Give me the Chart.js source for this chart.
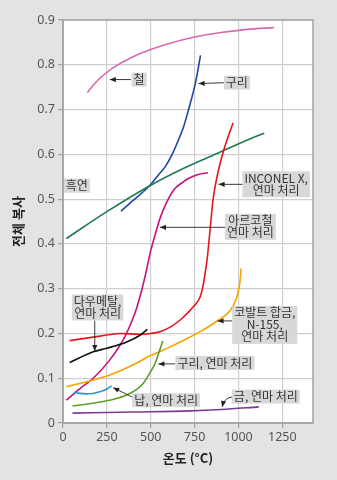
<!DOCTYPE html>
<html>
<head>
<meta charset="utf-8">
<script src="https://cdn.jsdelivr.net/npm/chart.js@4"></script>
<style>
  html, body { margin: 0; padding: 0; background: #e3e3e3; }
  canvas { display: block; }
</style>
</head>
<body>
<canvas id="chart" width="337" height="480"></canvas>
<script>
// temperatures (°C) and total emissivity per material
const ironX = [139, 165, 200, 250, 300, 400, 500, 600, 750, 900, 1050, 1202];
const ironY = [0.738, 0.751, 0.766, 0.783, 0.797, 0.818, 0.834, 0.847, 0.862, 0.872, 0.879, 0.883];

const copperX = [330, 400, 496, 544, 582, 620, 658, 687, 715, 754, 784];
const copperY = [0.473, 0.497, 0.531, 0.554, 0.572, 0.598, 0.632, 0.661, 0.699, 0.758, 0.821];

const graphiteX = [19, 250, 500, 668, 850, 1068, 1147];
const graphiteY = [0.412, 0.472, 0.531, 0.565, 0.597, 0.635, 0.647];

const armcoX = [19, 100, 172, 267, 353, 410, 449, 475, 500, 525, 553, 590, 630, 680, 715, 770, 826];
const armcoY = [0.051, 0.078, 0.10, 0.141, 0.193, 0.245, 0.297, 0.34, 0.385, 0.42, 0.457, 0.492, 0.52, 0.537, 0.546, 0.555, 0.559];

const inconelX = [38, 210, 325, 439, 500, 553, 611, 668, 744, 782, 801, 812, 821, 840, 855, 878, 916, 969];
const inconelY = [0.184, 0.194, 0.2, 0.198, 0.2, 0.204, 0.214, 0.23, 0.26, 0.282, 0.312, 0.34, 0.364, 0.438, 0.498, 0.55, 0.609, 0.67];

const cobaltX = [19, 172, 267, 400, 497, 611, 668, 782, 887, 954, 985, 1001, 1010, 1015];
const cobaltY = [0.081, 0.096, 0.107, 0.13, 0.15, 0.17, 0.181, 0.204, 0.23, 0.252, 0.275, 0.297, 0.32, 0.345];

const dowX = [38, 172, 250, 363, 439, 481];
const dowY = [0.135, 0.159, 0.167, 0.181, 0.196, 0.209];

const copperPolX = [54, 150, 229, 300, 363, 420, 458, 500, 525, 553, 569];
const copperPolY = [0.038, 0.043, 0.048, 0.054, 0.0625, 0.075, 0.089, 0.115, 0.133, 0.165, 0.183];

const leadX = [61, 134, 210, 250, 277];
const leadY = [0.068, 0.065, 0.07, 0.076, 0.083];

const goldX = [54, 400, 725, 900, 1116];
const goldY = [0.022, 0.0245, 0.027, 0.030, 0.036];

const xTicks = [0, 250, 500, 750, 1000, 1250];

// labels: text lines, centre (data units), optional arrow
const notes = [
  { lines: ['철'], x: 434, y: 0.767, from: [387, 0.767], to: [267, 0.767] },
  { lines: ['구리'], x: 991, y: 0.76, from: [920, 0.76], to: [773, 0.758] },
  { lines: ['흑연'], x: 79, y: 0.53 },
  { lines: ['INCONEL X,', '연마 처리'], x: 1215, y: 0.533, from: [1027, 0.533], to: [887, 0.533] },
  { lines: ['아르코철', '연마 처리'], x: 1068, y: 0.438, from: [925, 0.437], to: [553, 0.437] },
  { lines: ['다우메탈,', '연마 처리'], x: 197, y: 0.258, from: [181, 0.229], to: [181, 0.161] },
  { lines: ['코발트 합금,', 'N-155,', '연마 처리'], x: 1150, y: 0.219, from: [964, 0.228], to: [881, 0.228] },
  { lines: ['구리, 연마 처리'], x: 866, y: 0.134, from: [639, 0.132], to: [544, 0.132] },
  { lines: ['납, 연마 처리'], x: 588, y: 0.051, from: [399, 0.057], to: [286, 0.079] },
  { lines: ['금, 연마 처리'], x: 1156, y: 0.059, from: [965, 0.058], via: [921, 0.058], to: [907, 0.036] },
];

const FONT = "'Noto Sans CJK KR', 'Noto Sans', sans-serif";
const NUM_FONT = "'Noto Sans', sans-serif";

function pts(xs, ys) {
  return xs.map((x, i) => ({ x: x, y: ys[i] }));
}

function series(xs, ys, color) {
  return {
    data: pts(xs, ys),
    borderColor: color,
    borderWidth: 1.6,
    pointRadius: 0,
    fill: false,
    cubicInterpolationMode: "monotone",
  };
}

const frame = {
  id: "frame",
  beforeDraw(chart) {
    const { ctx, chartArea: a } = chart;
    ctx.save();
    ctx.fillStyle = "#e3e3e3";
    ctx.fillRect(0, 0, chart.width, chart.height);
    ctx.fillStyle = "#ffffff";
    ctx.fillRect(a.left, a.top, a.right - a.left, a.bottom - a.top);
    ctx.restore();
  },
  afterDraw(chart) {
    const { ctx, chartArea: a } = chart;
    ctx.save();
    ctx.strokeStyle = "#a3a3a3";
    ctx.lineWidth = 1.5;
    ctx.strokeRect(a.left, a.top, a.right - a.left, a.bottom - a.top);
    ctx.restore();
  },
};

function arrowHead(ctx, fx, fy, tx, ty) {
  const ang = Math.atan2(ty - fy, tx - fx);
  const len = 6, half = 2.6;
  ctx.beginPath();
  ctx.moveTo(tx, ty);
  ctx.lineTo(tx - len * Math.cos(ang) + half * Math.sin(ang), ty - len * Math.sin(ang) - half * Math.cos(ang));
  ctx.lineTo(tx - len * Math.cos(ang) - half * Math.sin(ang), ty - len * Math.sin(ang) + half * Math.cos(ang));
  ctx.closePath();
  ctx.fill();
}

const labels = {
  id: "labels",
  afterDatasetsDraw(chart) {
    const { ctx, scales: { x, y } } = chart;
    ctx.save();
    ctx.font = "12px " + FONT;
    ctx.textAlign = "center";
    ctx.textBaseline = "middle";
    const lh = 12;
    notes.forEach((n) => {
      // arrow
      if (n.from) {
        const fx = x.getPixelForValue(n.from[0]), fy = y.getPixelForValue(n.from[1]);
        const tx = x.getPixelForValue(n.to[0]), ty = y.getPixelForValue(n.to[1]);
        ctx.strokeStyle = "#222";
        ctx.fillStyle = "#222";
        ctx.lineWidth = 0.9;
        ctx.beginPath();
        ctx.moveTo(fx, fy);
        if (n.via) {
          const vx = x.getPixelForValue(n.via[0]), vy = y.getPixelForValue(n.via[1]);
          ctx.quadraticCurveTo(vx, vy, tx, ty);
          ctx.stroke();
          arrowHead(ctx, vx, vy, tx, ty);
        } else {
          ctx.lineTo(tx, ty);
          ctx.stroke();
          arrowHead(ctx, fx, fy, tx, ty);
        }
      }
      // box + text
      const cx = x.getPixelForValue(n.x), cy = y.getPixelForValue(n.y);
      const w = Math.max(...n.lines.map((t) => ctx.measureText(t).width)) + 4;
      const h = n.lines.length * lh + 2;
      ctx.fillStyle = "#d8d8d8";
      ctx.fillRect(cx - w / 2, cy - h / 2, w, h);
      ctx.fillStyle = "#333";
      n.lines.forEach((t, i) => {
        ctx.fillText(t, cx, cy - h / 2 + 1 + lh * i + lh / 2);
      });
    });
    ctx.restore();
  },
};

new Chart(document.getElementById("chart"), {
  type: "line",
  data: {
    datasets: [
      series(goldX, goldY, "#7b3a8e"),
      series(leadX, leadY, "#1f9ad8"),
      series(copperPolX, copperPolY, "#5c9e2c"),
      series(cobaltX, cobaltY, "#f6a400"),
      series(dowX, dowY, "#111111"),
      series(inconelX, inconelY, "#e8141c"),
      series(armcoX, armcoY, "#c5137d"),
      series(graphiteX, graphiteY, "#1f7a50"),
      series(copperX, copperY, "#1c48a0"),
      series(ironX, ironY, "#d76aae"),
    ],
  },
  options: {
    responsive: false,
    animation: false,
    layout: { padding: { top: 20, right: 24, left: 0, bottom: 0 } },
    plugins: { legend: { display: false }, tooltip: { enabled: false } },
    scales: {
      x: {
        type: "linear",
        min: 0,
        max: 1425,
        afterBuildTicks: (s) => { s.ticks = xTicks.map((v) => ({ value: v })); },
        afterFit: (s) => { s.height = 57; },
        ticks: {
          color: "#555",
          font: { size: 12.5, family: NUM_FONT },
          padding: 2,
          maxRotation: 0,
          callback: (v) => String(v),
        },
        grid: { color: "#cfcfcf", lineWidth: 1.2, tickLength: 5, tickColor: "#a3a3a3" },
        border: { color: "#a3a3a3", width: 1.5 },
        title: {
          display: true,
          text: "온도 (°C)",
          color: "#222",
          font: { size: 13, weight: "bold", family: FONT },
          padding: { top: 0, bottom: 14 },
        },
      },
      y: {
        min: 0,
        max: 0.9,
        afterFit: (s) => { s.width = 63; },
        ticks: {
          stepSize: 0.1,
          color: "#555",
          font: { size: 12.5, family: NUM_FONT },
          padding: 3,
          callback: (v) => (v === 0 ? "0" : v.toFixed(1)),
        },
        grid: { color: "#cfcfcf", lineWidth: 1.2, tickLength: 5, tickColor: "#a3a3a3" },
        border: { color: "#a3a3a3", width: 1.5 },
        title: {
          display: true,
          text: "전체 복사",
          color: "#222",
          font: { size: 13, weight: "bold", family: FONT },
          padding: { top: 10, bottom: 0 },
        },
      },
    },
  },
  plugins: [frame, labels],
});
</script>
</body>
</html>
